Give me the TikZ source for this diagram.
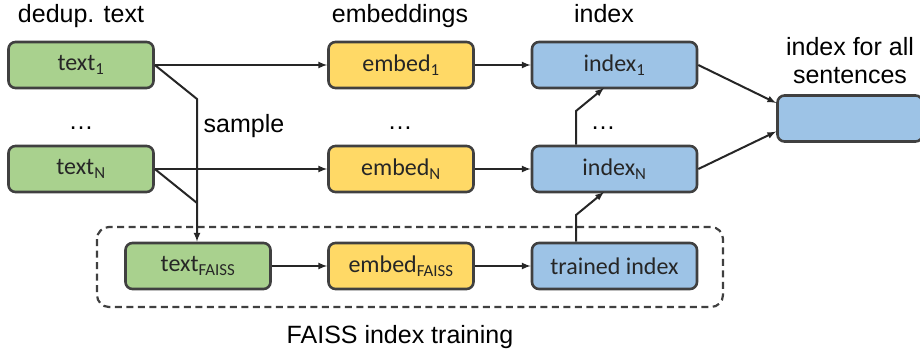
\documentclass[tikz,border=0pt]{standalone}
\usepackage{fontspec}
\setmainfont{Liberation Sans}
\newfontfamily\boxfont{Carlito}
\usepackage{tikz}
\usetikzlibrary{calc}
\definecolor{textgreen}{RGB}{169,209,142}
\definecolor{embedyellow}{RGB}{255,217,102}
\definecolor{indexblue}{RGB}{157,195,230}
\definecolor{edgegray}{RGB}{64,64,64}
\tikzset{stagebox/.style={draw=edgegray, line width=2.6pt, rounded corners=7pt,
    minimum width=145pt, minimum height=46pt, inner sep=0pt,
    font=\boxfont\fontsize{24}{28}\selectfont, text=black!85},
  flow/.style={->, >=latex, draw=black!85, line width=2pt},
  caption/.style={anchor=base, font=\fontsize{25}{30}\selectfont}}

\begin{document}
\begin{tikzpicture}[x=1pt, y=-1pt]
	\useasboundingbox (0,0) rectangle (920,356);

	% column titles
	\node[caption] (ttext) at (81,22) {dedup. text};
	\node[caption] (temb) at (400,23) {embeddings};
	\node[caption] (tidx) at (604,23) {index};
	\node[caption] (tall1) at (850,55) {index for all};
	\node[caption] (tall2) at (850,83) {sentences};

	% main rows
	\node[stagebox, fill=textgreen] (text1) at (81,65) {text\textsubscript{1}};
	\node[stagebox, fill=textgreen] (textN) at (81,169) {text\textsubscript{N}};
	\node[stagebox, fill=embedyellow] (embed1) at (401,65) {embed\textsubscript{1}};
	\node[stagebox, fill=embedyellow] (embedN) at (401,169) {embed\textsubscript{N}};
	\node[stagebox, fill=indexblue, minimum width=165pt] (index1) at (614.5,65) {index\textsubscript{1}};
	\node[stagebox, fill=indexblue, minimum width=165pt] (indexN) at (614.5,169) {index\textsubscript{N}};
	\node[stagebox, fill=indexblue] (all) at (850,118.5) {};

	\node[caption] (dots1) at (81,129) {\ldots};
	\node[caption] (dots2) at (400,129) {\ldots};
	\node[caption] (dots3) at (603,129) {\ldots};

	% training row
	\draw[edgegray, line width=2.2pt, dashed, dash pattern=on 7pt off 4.5pt, rounded corners=12pt]
		(97,227) rectangle (723,307);
	\node[caption] (tfaiss) at (400,343) {FAISS index training};
	\node[stagebox, fill=textgreen] (textF) at (198,266) {text\textsubscript{FAISS}};
	\node[stagebox, fill=embedyellow] (embedF) at (401,266) {embed\textsubscript{FAISS}};
	\node[stagebox, fill=indexblue, minimum width=165pt] (trained) at (614.5,266) {trained index};

	% sampling
	\coordinate (bend1) at (197,99);
	\coordinate (bendN) at (197,203);
	\draw[flow] (text1.east) -- (bend1) -- (bend1 |- textF.north);
	\draw[flow, -] (textN.east) -- (bendN);
	\node[caption] (tsample) at (244,132) {sample};

	% rows
	\draw[flow] (text1.east) -- (embed1.west);
	\draw[flow] (textN.east) -- (embedN.west);
	\draw[flow] (embed1.east) -- (index1.west);
	\draw[flow] (embedN.east) -- (indexN.west);
	\draw[flow] (textF.east) -- (embedF.west);
	\draw[flow] (embedF.east) -- (trained.west);
	\draw[flow] (index1.east) -- ([yshift=15.5pt]all.west);
	\draw[flow] (indexN.east) -- ([yshift=-13pt]all.west);

	% trained index is copied up
	\coordinate (upF) at (576,215);
	\coordinate (upN) at (576,111);
	\draw[flow] (upF |- trained.north) -- (upF) -- (604,192);
	\draw[flow] (upN |- indexN.north) -- (upN) -- (604,88);
\end{tikzpicture}
\end{document}
